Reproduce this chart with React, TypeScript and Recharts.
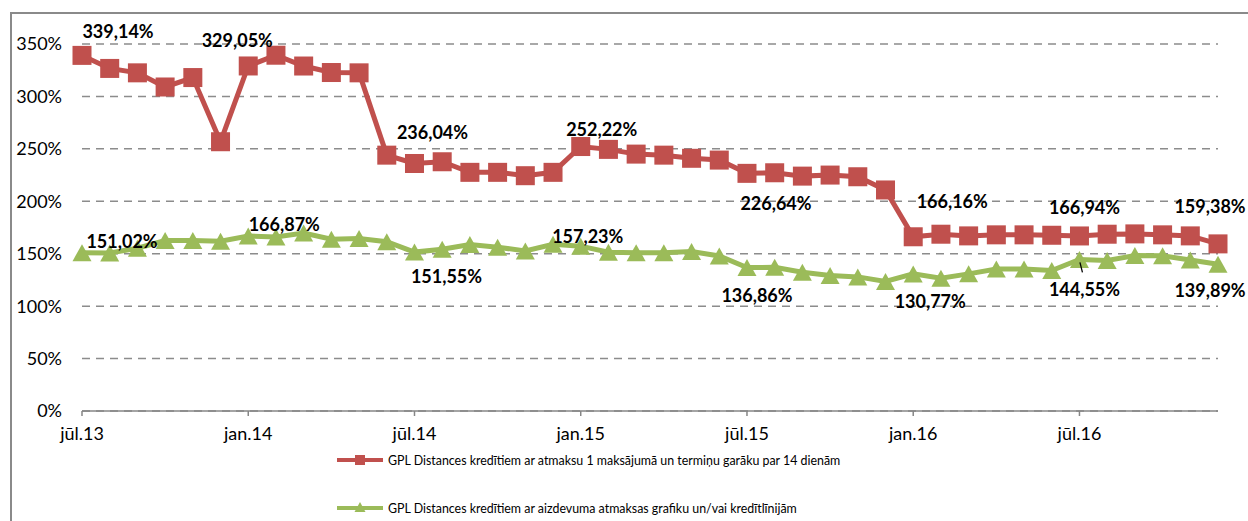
import React from 'react';
import { LineChart, Line, XAxis, YAxis, CartesianGrid, Legend, LabelList } from 'recharts';

const months = [
  'jūl.13', 'aug.13', 'sep.13', 'okt.13', 'nov.13', 'dec.13',
  'jan.14', 'feb.14', 'mar.14', 'apr.14', 'mai.14', 'jūn.14',
  'jūl.14', 'aug.14', 'sep.14', 'okt.14', 'nov.14', 'dec.14',
  'jan.15', 'feb.15', 'mar.15', 'apr.15', 'mai.15', 'jūn.15',
  'jūl.15', 'aug.15', 'sep.15', 'okt.15', 'nov.15', 'dec.15',
  'jan.16', 'feb.16', 'mar.16', 'apr.16', 'mai.16', 'jūn.16',
  'jūl.16', 'aug.16', 'sep.16', 'okt.16', 'nov.16', 'dec.16',
];

const redValues = [
  339.14, 326.7, 322.5, 309, 318, 256.8,
  329.05, 339.3, 329, 322.8, 322.5, 244,
  236.04, 237.7, 227.6, 227.6, 224.4, 227.6,
  252.22, 249.5, 245, 244, 241, 239.3,
  226.64, 227.2, 224, 225, 223.4, 210.8,
  166.16, 168.6, 167, 168, 168, 167.6,
  166.94, 168.6, 168.9, 168, 167, 159.38,
];

const greenValues = [
  151.02, 150.8, 155.2, 162.5, 162.5, 162,
  166.87, 166, 169.8, 163.8, 164.5, 161.5,
  151.55, 154.3, 158.7, 156.2, 152.7, 159,
  157.23, 151.4, 151, 151, 152, 147.9,
  136.86, 137, 132.3, 129.2, 127.9, 123.5,
  130.77, 126.6, 130.8, 135.5, 135.5, 134,
  144.55, 143.5, 148.2, 148, 144, 139.89,
];

const xTicks = ['jūl.13', 'jan.14', 'jūl.14', 'jan.15', 'jūl.15', 'jan.16', 'jūl.16'];
const yTicks = [0, 50, 100, 150, 200, 250, 300, 350];

const redName = 'GPL Distances kredītiem ar atmaksu 1 maksājumā un termiņu garāku par 14 dienām';
const greenName = 'GPL Distances kredītiem ar aizdevuma atmaksas grafiku un/vai kredītlīnijām';

const RED = '#C0504D';
const GREEN = '#9BBB59';
const FONT = "Lato, 'Open Sans', 'DejaVu Sans', sans-serif";

// label placement (style config): index -> [dx, dy]
const redLabelPos: Record<number, [number, number]> = {
  0: [36, -24], 6: [-11, -26], 12: [18, -31], 18: [21, -18],
  24: [29, 30], 30: [39, -36], 36: [5, -29], 41: [-8, -38],
};
const greenLabelPos: Record<number, [number, number]> = {
  0: [40, -12], 6: [36, -12], 12: [32, 24], 18: [7, -10],
  24: [10, 28], 30: [17, 27], 36: [5, 30], 41: [-8, 26],
};

const data = months.map((m, i) => ({ month: m, red: redValues[i], green: greenValues[i] }));

const fmt = (v: number) => v.toFixed(2).replace('.', ',') + '%';

const makeLabel = (pos: Record<number, [number, number]>, leaderIdx?: number) => (props: any) => {
  const { x, y, value, index } = props;
  const p = pos[index];
  if (!p) return null;
  return (
    <g>
      {leaderIdx === index && (
        <line x1={x + 0.5} y1={y + 3} x2={x + 3} y2={y + 13} stroke="#000" strokeWidth={1.3} />
      )}
      <text
        x={x + p[0]}
        y={y + p[1]}
        textAnchor="middle"
        dominantBaseline="central"
        fontFamily={FONT}
        fontWeight="bold"
        fontSize={18}
        fill="#000"
      >
        {fmt(value)}
      </text>
    </g>
  );
};

const SquareDot = (props: any) => {
  const { cx, cy, index } = props;
  if (cx == null || cy == null) return null;
  return <rect key={`sq-${index}`} x={cx - 9.5} y={cy - 9.5} width={19} height={19} fill={RED} />;
};

const TriangleDot = (props: any) => {
  const { cx, cy, index } = props;
  if (cx == null || cy == null) return null;
  const w = 19;
  const h = 17;
  return (
    <path
      key={`tr-${index}`}
      d={`M${cx},${cy - h / 2} L${cx + w / 2},${cy + h / 2} L${cx - w / 2},${cy + h / 2} Z`}
      fill={GREEN}
    />
  );
};

const LegendContent = () => {
  const rows = [
    { name: redName, color: RED, marker: 'square' },
    { name: greenName, color: GREEN, marker: 'triangle' },
  ];
  return (
    <div style={{ fontFamily: FONT, fontSize: 12.4, color: '#000' }}>
      {rows.map((r, i) => (
        <div key={i} style={{ display: 'flex', alignItems: 'center', height: 20, marginBottom: i === 0 ? 28 : 0 }}>
          <svg width={46} height={20} style={{ display: 'block' }}>
            <line x1={0} y1={10} x2={46} y2={10} stroke={r.color} strokeWidth={4} />
            {r.marker === 'square' ? (
              <rect x={18} y={5} width={10} height={10} fill={r.color} />
            ) : (
              <path d="M23,4 L28.5,14 L17.5,14 Z" fill={r.color} />
            )}
          </svg>
          <span style={{ marginLeft: 5, whiteSpace: 'nowrap' }}>{r.name}</span>
        </div>
      ))}
    </div>
  );
};

export default function App() {
  return (
    <div style={{ position: 'absolute', left: 0, top: 0, width: 1248, height: 521, overflow: 'hidden', background: '#fff' }}>
      <div
        style={{
          position: 'absolute', left: 10, top: 12, width: 1400, height: 700,
          borderLeft: '2px solid #8a8a8a', borderTop: '2px solid #8a8a8a',
        }}
      />
      <div style={{ position: 'absolute', left: 0, top: 0 }}>
        <LineChart width={1248} height={521} data={data} margin={{ top: 44, right: 30, bottom: 80, left: 10 }}>
          <CartesianGrid vertical={false} stroke="#8c8c8c" strokeWidth={1.5} strokeDasharray="8 6" />
          <XAxis
            dataKey="month"
            ticks={xTicks}
            interval={0}
            height={30}
            axisLine={{ stroke: '#868686', strokeWidth: 1.5 }}
            tickLine={{ stroke: '#868686', strokeWidth: 1.5 }}
            tickSize={5}
            tickMargin={11}
            tick={{ fontFamily: FONT, fontSize: 18, fill: '#000' }}
          />
          <YAxis
            domain={[0, 350]}
            ticks={yTicks}
            width={72}
            axisLine={false}
            tickLine={false}
            tickSize={0}
            tickMargin={20}
            tickFormatter={(v: number) => `${v}%`}
            tick={{ fontFamily: FONT, fontSize: 18, fill: '#000' }}
          />
          <Legend
            layout="horizontal"
            verticalAlign="middle"
            align="center"
            content={<LegendContent />}
            wrapperStyle={{ left: 337, top: 450, width: 700, height: 70 }}
          />
          <Line
            type="linear"
            dataKey="red"
            name={redName}
            stroke={RED}
            strokeWidth={5}
            dot={<SquareDot />}
            activeDot={false}
            isAnimationActive={false}
          >
            <LabelList dataKey="red" content={makeLabel(redLabelPos)} />
          </Line>
          <Line
            type="linear"
            dataKey="green"
            name={greenName}
            stroke={GREEN}
            strokeWidth={5}
            dot={<TriangleDot />}
            activeDot={false}
            isAnimationActive={false}
          >
            <LabelList dataKey="green" content={makeLabel(greenLabelPos, 36)} />
          </Line>
        </LineChart>
      </div>
    </div>
  );
}
